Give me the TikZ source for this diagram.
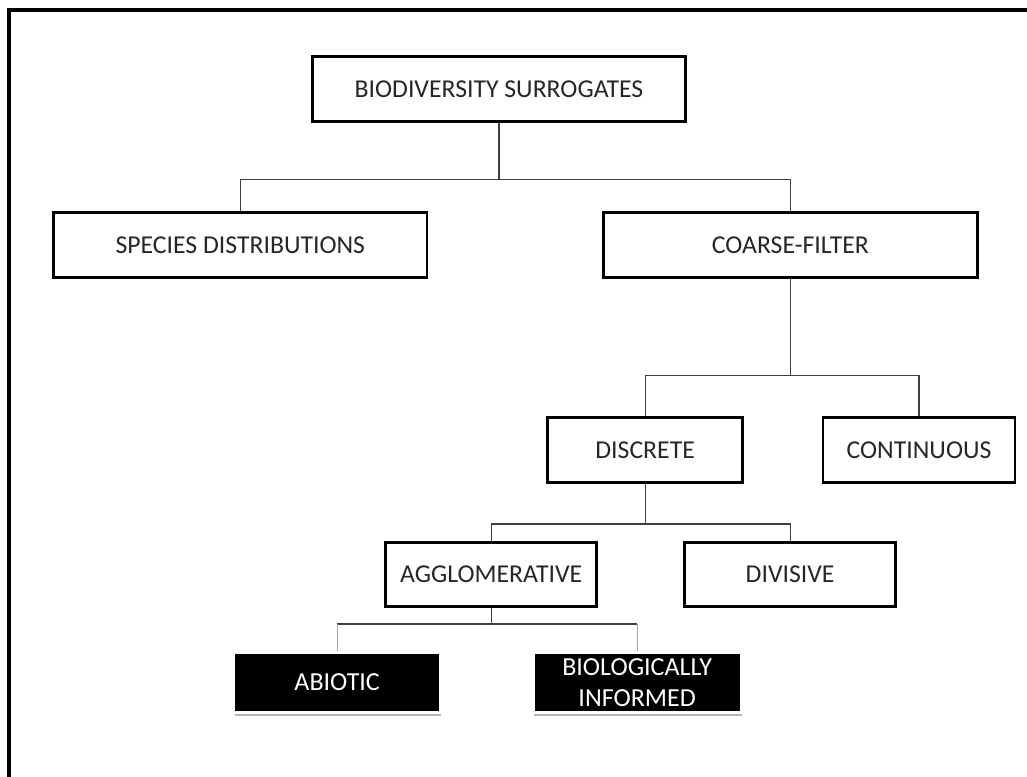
\documentclass[tikz,border=0pt]{standalone}
\usepackage{fontspec}
\setmainfont{Carlito}
\usetikzlibrary{positioning, shadows}
\definecolor{linkblue}{RGB}{140,170,205}

\begin{document}
\begin{tikzpicture}[
  x=0.75pt, y=-0.75pt,
  font=\fontsize{19.3}{21}\selectfont,
  node distance=66pt,
  bigbox/.style={rectangle, draw, line width=2.2pt, fill=white, text=black!85, minimum width=280pt, minimum height=49pt, align=center, inner sep=0pt},
  midbox/.style={bigbox, minimum width=146pt, minimum height=48.5pt},
  lowbox/.style={bigbox, minimum width=158pt, minimum height=48pt},
  leafbox/.style={rectangle, draw=white, line width=2.2pt, fill=black, text=white, minimum width=155pt, minimum height=45pt, align=center, inner sep=0pt, font=\fontsize{19.5}{23}\selectfont, drop shadow={shadow xshift=0.6pt, shadow yshift=-2.4pt, fill=black!40, opacity=0.7}},
  link/.style={draw=black!75, line width=0.9pt},
  bluelink/.style={draw=linkblue, line width=0.9pt}
]
\clip (0,0) rectangle (1027,776);

% Outer frame (runs off the page at right and bottom)
\draw[line width=2.3pt] (9,800) -- (9,10) -- (1050,10);

% Nodes
\node[bigbox] (root) at (499,89) {BIODIVERSITY SURROGATES};
\node[bigbox, below=66pt of root, xshift=-194pt] (species) {SPECIES DISTRIBUTIONS};
\node[bigbox, below=66pt of root, xshift=218.6pt] (coarse) {COARSE-FILTER};
\node[midbox, below=102.75pt of coarse, xshift=-109pt] (discrete) {DISCRETE};
\node[midbox, below=102.75pt of coarse, xshift=96.4pt, minimum width=144pt] (continuous) {CONTINUOUS};
\node[lowbox, below=42.75pt of discrete, xshift=-115.5pt] (agglo) {AGGLOMERATIVE};
\node[lowbox, below=42.75pt of discrete, xshift=108.75pt] (divisive) {DIVISIVE};
\node[leafbox, below=32.25pt of agglo, xshift=-115.5pt] (abiotic) {ABIOTIC};
\node[leafbox, below=32.25pt of agglo, xshift=109.5pt, minimum width=156pt] (bioinf) {BIOLOGICALLY\\INFORMED};

% Bars of the tree
\coordinate[below=42pt of root.south] (rootbar);
\coordinate[below=72pt of coarse.south] (coarsebar);
\coordinate[below=30pt of discrete.south] (discbar);
\coordinate[below=12pt of agglo.south] (agglobar);

% Connectors
\draw[link] (root.south) -- (rootbar);
\draw[link] (species.north) |- (rootbar) -| (coarse.north);
\draw[link] (coarse.south) -- (coarsebar);
\draw[link] (discrete.north) |- (coarsebar) -| (continuous.north);
\draw[link] (discrete.south) -- (discbar);
\draw[link] (agglo.north) |- (discbar) -| (divisive.north);
\draw[link] (agglo.south) -- (agglobar);
\draw[link] (abiotic.north |- agglobar) -- (bioinf.north |- agglobar);
\draw[bluelink] (abiotic.north |- agglobar) -- (abiotic.north);
\draw[bluelink] (bioinf.north |- agglobar) -- (bioinf.north);

\end{tikzpicture}
\end{document}
